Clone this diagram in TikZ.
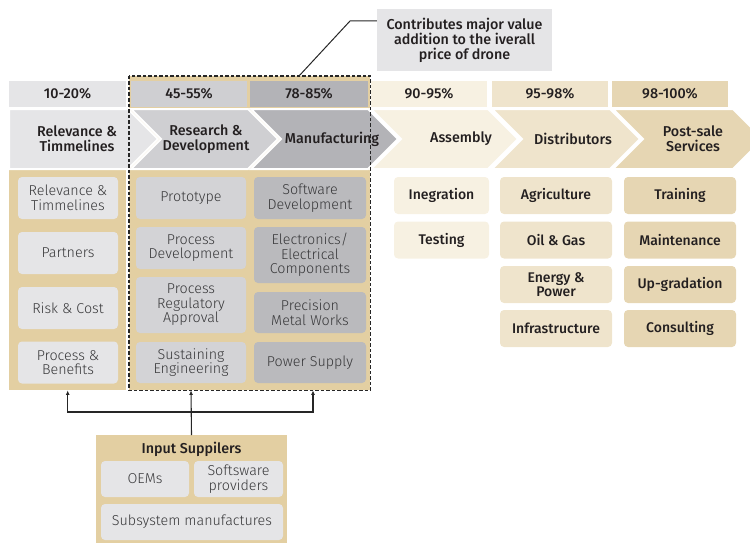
\documentclass[tikz,border=0pt]{standalone}
\usepackage{fontspec}
\setmainfont{Fira Sans}
\newfontfamily\lightfont{Fira Sans Light}
\newfontfamily\medfont{Fira Sans Medium}
\usetikzlibrary{arrows.meta}

\definecolor{gA}{HTML}{E5E5E7}
\definecolor{gB}{HTML}{CFCFD2}
\definecolor{gC}{HTML}{B3B3B7}
\definecolor{gBi}{HTML}{D3D3D6}
\definecolor{gCi}{HTML}{BABABD}
\definecolor{cD}{HTML}{F7F1E2}
\definecolor{cE}{HTML}{EFE4CC}
\definecolor{cF}{HTML}{E6D6B3}
\definecolor{tanbg}{HTML}{E3CFA2}
\definecolor{ink}{HTML}{231F20}
\definecolor{soft}{HTML}{38383A}
\definecolor{wire}{HTML}{262626}

\tikzset{
  every node/.style={font=\medfont\fontsize{14.3}{15}\selectfont, text=ink},
  pct/.style={minimum height=26pt, inner sep=0pt},
  stage/.style={align=center, inner sep=0pt},
  lightitem/.style={rounded corners=4pt, inner sep=0pt, align=center,
    font=\lightfont\fontsize{14.3}{14.5}\selectfont, text=soft},
  item/.style={rounded corners=4pt, inner sep=0pt, align=center,
    font=\medfont\fontsize{14}{14.5}\selectfont, text=ink},
  panel/.style={fill=tanbg, inner sep=0pt, anchor=north west},
  feed/.style={draw=wire, line width=1.1pt, -{Latex[length=4.5pt,width=4pt]}},
}

% chevron: left x, right x, colour, notch depth
\newcommand\chevron[4]{%
  \filldraw[fill=#3, draw=white, line width=2pt, line join=miter]
    (#1,109) -- (#2,109) -- ({#2+30},139) -- (#2,169) -- (#1,169) -- ({#1+#4},139) -- cycle;}

\begin{document}
\begin{tikzpicture}[x=1pt, y=-1pt]
\useasboundingbox (0,0) rectangle (750,543);

% tan backgrounds
\node[panel, minimum width=117pt, minimum height=220pt] (pan1) at (9,170) {};
\node[panel, minimum width=241pt, minimum height=314pt] (core) at (129,76) {};

% percentage bands
\node[pct, fill=gA, minimum width=117pt] (p1) at (67.5,94) {10-20\%};
\node[pct, fill=gB, minimum width=116pt] (p2) at (189,94) {45-55\%};
\node[pct, fill=gC, minimum width=118pt] (p3) at (309,94) {78-85\%};
\node[pct, fill=cD, minimum width=116pt] (p4) at (429,94) {90-95\%};
\node[pct, fill=cE, minimum width=116pt] (p5) at (550,94) {95-98\%};
\node[pct, fill=cF, minimum width=116pt] (p6) at (670,94) {98-100\%};

% stage chevrons
\chevron{9}{128}{gA}{0}
\chevron{131}{248}{gB}{30}
\chevron{251}{368}{gC}{30}
\chevron{371}{488}{cD}{30}
\chevron{492}{610}{cE}{30}
\chevron{613}{733}{cF}{30}
\node[stage] (h1) at (77,139) {Relevance \&\\Timmelines};
\node[stage] (h2) at (206,139) {Research \&\\Development};
\node[stage] (h3) at (332,139) {Manufacturing};
\node[stage] (h4) at (461,139) {Assembly};
\node[stage] (h5) at (573,139) {Distributors};
\node[stage] (h6) at (693,139) {Post-sale\\Services};

% column 1
\tikzset{c1/.style={lightitem, fill=gA, minimum width=100pt, minimum height=42pt}}
\node[c1] (a1) at (68,198) {Relevance \&\\Timmelines};
\node[c1] (a2) at (68,253) {Partners};
\node[c1] (a3) at (68,308) {Risk \& Cost};
\node[c1] (a4) at (68,362.5) {Process \&\\Benefits};

% column 2
\tikzset{c2/.style={lightitem, fill=gBi, minimum width=110pt}}
\node[c2, minimum height=42pt] (b1) at (191,198) {Prototype};
\node[c2, minimum height=42pt] (b2) at (191,248) {Process\\Development};
\node[c2, minimum height=56pt] (b3) at (191,305) {Process\\Regulatory\\Approval};
\node[c2, minimum height=41pt] (b4) at (191,362.5) {Sustaining\\Engineering};

% column 3
\tikzset{c3/.style={lightitem, fill=gCi, minimum width=112pt}}
\node[c3, minimum height=42pt] (m1) at (310,198) {Software\\Development};
\node[c3, minimum height=56pt] (m2) at (310,255) {Electronics/\\Electrical\\Components};
\node[c3, minimum height=41pt] (m3) at (310,312.5) {Precision\\Metal Works};
\node[c3, minimum height=41pt] (m4) at (310,362.5) {Power Supply};

% column 4
\tikzset{c4/.style={item, fill=cD, minimum width=95pt, minimum height=37pt}}
\node[c4] (s1) at (441.5,195.5) {Inegration};
\node[c4] (s2) at (441.5,240) {Testing};

% column 5
\tikzset{c5/.style={item, fill=cE, minimum width=112pt, minimum height=37pt}}
\node[c5] (d1) at (556,195.5) {Agriculture};
\node[c5] (d2) at (556,240) {Oil \& Gas};
\node[c5] (d3) at (556,284.5) {Energy \&\\Power};
\node[c5] (d4) at (556,328.5) {Infrastructure};

% column 6
\tikzset{c6/.style={item, fill=cF, minimum width=112pt, minimum height=37pt}}
\node[c6] (e1) at (680,195.5) {Training};
\node[c6] (e2) at (680,240) {Maintenance};
\node[c6] (e3) at (680,284.5) {Up-gradation};
\node[c6] (e4) at (680,328.5) {Consulting};

% dashed outline of the core stages
\draw[wire, line width=1.2pt, dash pattern=on 3.5pt off 2pt]
  (core.north west) rectangle (core.south east);

% callout
\node[fill=gA, minimum width=175pt, minimum height=62pt, align=center,
      inner sep=0pt] (note) at (464.5,40)
  {Contributes major value\\addition to the iverall\\price of drone};
\coordinate (bend) at (350,21);
\coordinate (tip) at (299,76);
\draw[wire, line width=1pt] (note.west |- bend) -- (bend) -- (tip);

% input suppliers
\node[panel, minimum width=191pt, minimum height=108pt] (sup) at (96,435) {};
\node[inner sep=0pt] (supt) at (191.5,449) {Input Suppilers};
\tikzset{c7/.style={lightitem, fill=gA, minimum height=36pt}}
\node[c7, minimum width=88pt] (o1) at (145,479) {OEMs};
\node[c7, minimum width=89pt] (o2) at (238.5,479) {Softsware\\providers};
\node[c7, minimum width=182pt] (o3) at (192,522) {Subsystem manufactures};

% feeds from suppliers into the chain
\coordinate (hub) at (191.5,412);
\coordinate (t2) at (core.south -| b1.center);
\coordinate (t3) at (core.south -| 313,0);
\draw[feed] (sup.north -| hub) -- (t2);
\draw[feed] (hub) -| (pan1.south);
\draw[feed] (hub) -| (t3);
\end{tikzpicture}
\end{document}
